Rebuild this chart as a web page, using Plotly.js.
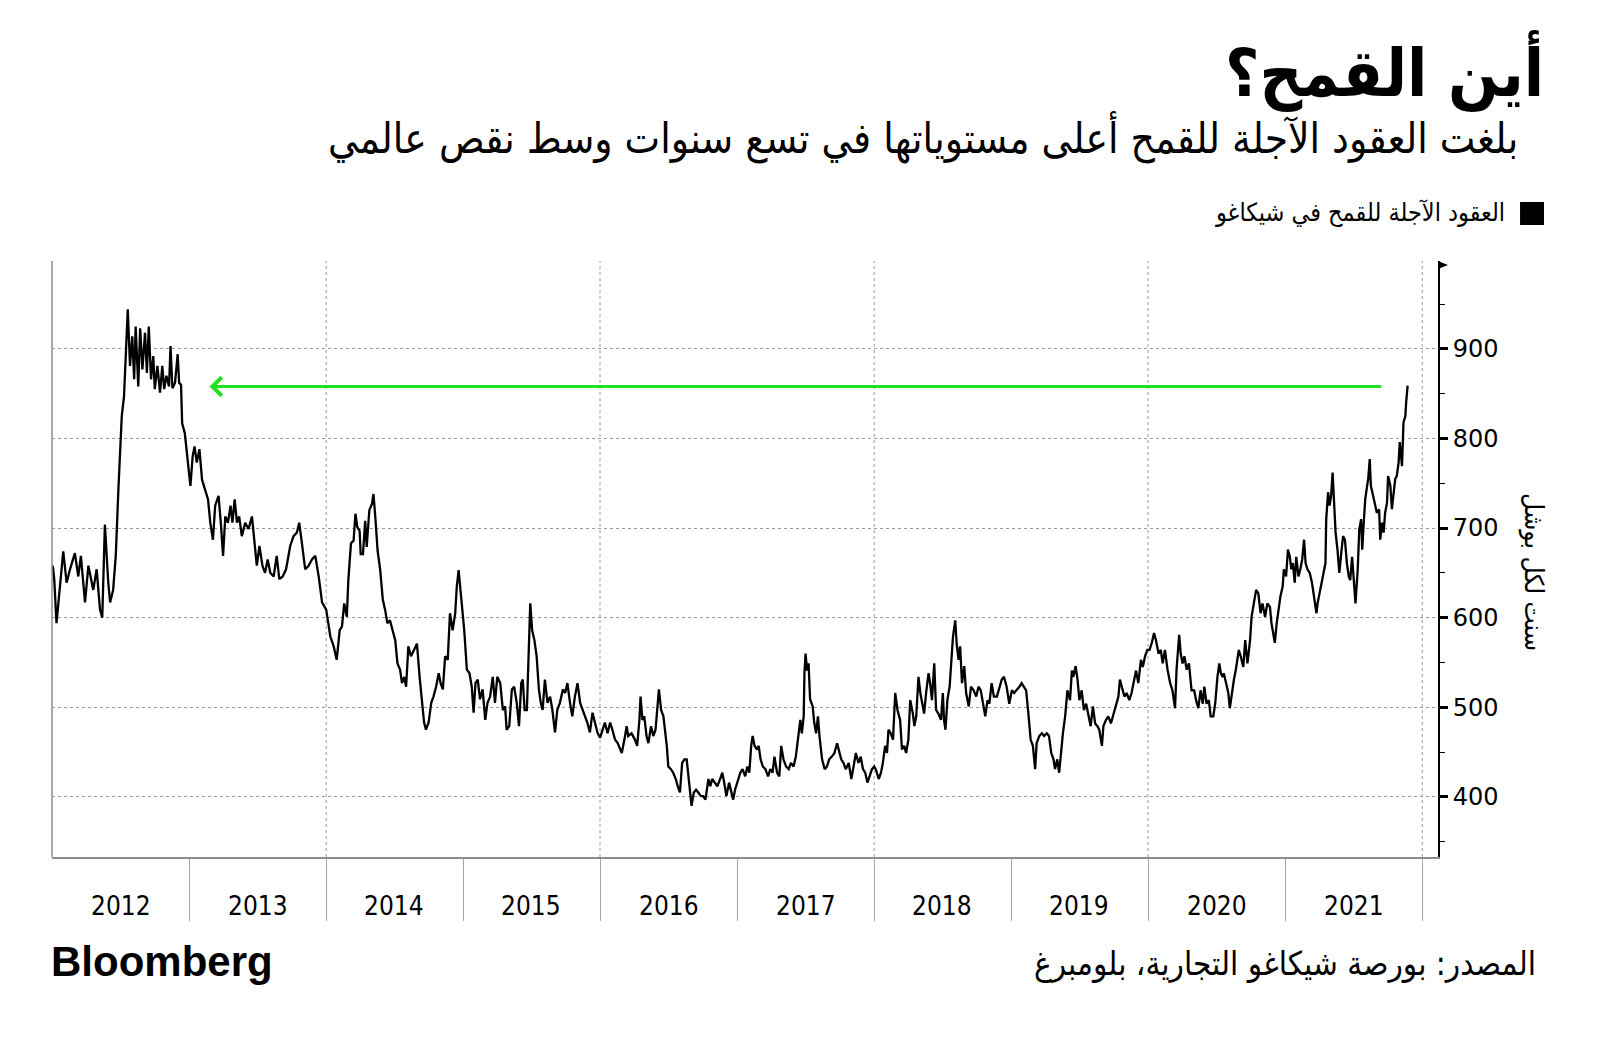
<!DOCTYPE html>
<html>
<head>
<meta charset="utf-8">
<script src="https://cdn.plot.ly/plotly-3.0.1.min.js"></script>
<style>
  html, body { margin: 0; padding: 0; background: #ffffff; }
  #chart { width: 1600px; height: 1039px; }
</style>
</head>
<body>
<div id="chart"></div>
<script>
// ---------------- DATA (CBOT wheat futures, cents per bushel) ----------------
const d2012 = ['2012-01-03','2012-01-07','2012-01-13','2012-01-22','2012-01-31','2012-02-09','2012-02-18','2012-03-02','2012-03-11','2012-03-18','2012-03-29','2012-04-07','2012-04-20','2012-04-29','2012-05-08','2012-05-14','2012-05-21','2012-05-30','2012-06-04','2012-06-12','2012-06-19','2012-06-26','2012-07-05','2012-07-11','2012-07-16','2012-07-21','2012-07-27','2012-08-02','2012-08-07','2012-08-11','2012-08-18','2012-08-23','2012-08-29','2012-09-05','2012-09-10','2012-09-15','2012-09-21','2012-09-27','2012-10-01','2012-10-08','2012-10-15','2012-10-21','2012-10-26','2012-11-01','2012-11-08','2012-11-12','2012-11-17','2012-11-24','2012-12-01','2012-12-05','2012-12-10','2012-12-13','2012-12-20','2012-12-27'];
const p2012 = [658,643,594,631,674,639,654,672,646,669,617,658,631,654,609,600,704,639,617,631,669,743,825,847,903,944,881,914,866,925,858,923,877,918,873,925,866,892,855,881,851,881,855,870,858,903,856,862,894,862,860,817,806,780];

const d2013 = ['2013-01-04','2013-01-10','2013-01-15','2013-01-21','2013-01-28','2013-02-04','2013-02-13','2013-02-20','2013-02-26','2013-03-05','2013-03-11','2013-03-20','2013-03-26','2013-04-01','2013-04-07','2013-04-14','2013-04-21','2013-04-26','2013-05-02','2013-05-08','2013-05-14','2013-05-21','2013-05-30','2013-06-08','2013-06-17','2013-06-23','2013-06-30','2013-07-07','2013-07-15','2013-07-22','2013-07-29','2013-08-05','2013-08-14','2013-08-22','2013-08-29','2013-09-07','2013-09-16','2013-09-27','2013-10-06','2013-10-15','2013-10-21','2013-10-28','2013-11-06','2013-11-15','2013-11-24','2013-12-03','2013-12-12','2013-12-21'];
const p2013 = [747,780,791,773,788,754,743,732,706,687,725,736,706,669,713,706,725,706,732,706,713,691,706,699,713,684,658,680,658,650,665,650,646,669,643,646,654,680,691,695,706,684,654,658,665,669,646,617];

const d2014 = ['2014-01-01','2014-01-12','2014-01-21','2014-01-29','2014-02-06','2014-02-12','2014-02-18','2014-02-25','2014-03-01','2014-03-08','2014-03-15','2014-03-20','2014-03-25','2014-03-31','2014-04-03','2014-04-09','2014-04-15','2014-04-19','2014-04-26','2014-05-03','2014-05-07','2014-05-12','2014-05-18','2014-05-25','2014-06-01','2014-06-07','2014-06-13','2014-06-20','2014-06-28','2014-07-04','2014-07-10','2014-07-17','2014-07-22','2014-07-28','2014-08-02','2014-08-08','2014-08-15','2014-08-22','2014-08-31','2014-09-07','2014-09-13','2014-09-19','2014-09-24','2014-10-01','2014-10-08','2014-10-14','2014-10-21','2014-10-28','2014-11-02','2014-11-08','2014-11-14','2014-11-21','2014-11-27','2014-12-04','2014-12-11','2014-12-15','2014-12-20','2014-12-24','2014-12-29'];
const p2014 = [609,579,568,553,586,590,616,601,642,683,686,716,701,697,671,671,708,679,720,727,738,712,675,653,620,609,594,597,583,575,549,542,527,534,523,568,557,564,571,534,505,483,475,483,505,512,523,538,527,520,557,553,605,586,605,634,653,634,616];

const d2015 = ['2015-01-04','2015-01-11','2015-01-18','2015-01-24','2015-01-29','2015-02-03','2015-02-09','2015-02-15','2015-02-22','2015-03-01','2015-03-07','2015-03-14','2015-03-21','2015-03-27','2015-04-02','2015-04-10','2015-04-17','2015-04-23','2015-04-27','2015-05-04','2015-05-11','2015-05-17','2015-05-24','2015-05-30','2015-06-05','2015-06-09','2015-06-14','2015-06-20','2015-06-24','2015-06-29','2015-07-04','2015-07-10','2015-07-16','2015-07-22','2015-07-27','2015-08-01','2015-08-07','2015-08-14','2015-08-21','2015-08-27','2015-09-03','2015-09-09','2015-09-16','2015-09-24','2015-09-30','2015-10-06','2015-10-13','2015-10-19','2015-10-26','2015-11-02','2015-11-09','2015-11-15','2015-11-22','2015-11-28','2015-12-05','2015-12-12','2015-12-19','2015-12-25'];
const p2015 = [586,542,538,523,494,527,531,509,520,486,505,512,534,505,534,527,497,501,475,479,520,523,505,479,527,531,497,497,557,616,586,575,557,520,505,497,531,505,512,497,472,497,505,520,516,527,505,490,512,527,505,497,490,483,472,494,483,472];

const d2016 = ['2016-01-01','2016-01-07','2016-01-14','2016-01-21','2016-01-28','2016-02-03','2016-02-10','2016-02-17','2016-02-23','2016-02-28','2016-03-06','2016-03-12','2016-03-16','2016-03-25','2016-04-03','2016-04-09','2016-04-15','2016-04-18','2016-04-23','2016-04-28','2016-05-04','2016-05-09','2016-05-16','2016-05-22','2016-05-28','2016-06-03','2016-06-06','2016-06-12','2016-06-18','2016-06-22','2016-06-27','2016-07-01','2016-07-08','2016-07-14','2016-07-21','2016-07-26','2016-08-01','2016-08-07','2016-08-13','2016-08-19','2016-08-23','2016-08-29','2016-09-01','2016-09-07','2016-09-13','2016-09-19','2016-09-26','2016-10-02','2016-10-08','2016-10-16','2016-10-21','2016-10-26','2016-11-02','2016-11-09','2016-11-16','2016-11-22','2016-11-27','2016-12-03','2016-12-10','2016-12-17','2016-12-21','2016-12-26'];
const p2016 = [466,475,483,471,483,475,464,460,453,449,464,479,468,471,464,457,486,512,486,490,468,460,479,468,475,505,520,497,490,475,457,434,431,427,420,412,405,438,442,442,427,397,390,405,408,405,401,401,397,420,412,420,416,412,420,427,416,401,416,405,397,408];

const d2017 = ['2017-01-03','2017-01-09','2017-01-15','2017-01-22','2017-01-28','2017-02-02','2017-02-07','2017-02-11','2017-02-16','2017-02-22','2017-02-27','2017-03-04','2017-03-10','2017-03-17','2017-03-24','2017-03-30','2017-04-05','2017-04-10','2017-04-17','2017-04-23','2017-04-28','2017-05-04','2017-05-11','2017-05-18','2017-05-24','2017-05-31','2017-06-06','2017-06-12','2017-06-18','2017-06-22','2017-06-27','2017-06-29','2017-07-02','2017-07-06','2017-07-10','2017-07-14','2017-07-21','2017-07-25','2017-07-30','2017-08-04','2017-08-08','2017-08-15','2017-08-22','2017-08-28','2017-09-03','2017-09-10','2017-09-17','2017-09-24','2017-09-30','2017-10-05','2017-10-11','2017-10-17','2017-10-25','2017-11-01','2017-11-07','2017-11-13','2017-11-20','2017-11-26','2017-12-02','2017-12-08','2017-12-14','2017-12-20','2017-12-26'];
const p2017 = [420,427,431,423,434,427,457,468,457,453,457,442,434,431,423,431,427,445,427,423,457,442,434,431,438,434,445,468,486,471,490,538,560,541,549,509,501,483,471,490,468,442,431,434,442,445,449,460,449,442,438,431,438,420,434,449,438,445,431,427,416,423,431];

const d2018 = ['2018-01-01','2018-01-06','2018-01-13','2018-01-19','2018-01-24','2018-01-30','2018-02-04','2018-02-08','2018-02-14','2018-02-20','2018-02-26','2018-03-04','2018-03-11','2018-03-16','2018-03-22','2018-03-27','2018-04-02','2018-04-07','2018-04-14','2018-04-18','2018-04-23','2018-04-29','2018-05-04','2018-05-08','2018-05-14','2018-05-20','2018-05-26','2018-05-30','2018-06-04','2018-06-10','2018-06-15','2018-06-21','2018-06-28','2018-07-03','2018-07-06','2018-07-10','2018-07-15','2018-07-21','2018-07-25','2018-07-30','2018-08-05','2018-08-09','2018-08-14','2018-08-18','2018-08-23','2018-08-29','2018-09-03','2018-09-10','2018-09-16','2018-09-23','2018-09-30','2018-10-06','2018-10-12','2018-10-17','2018-10-24','2018-10-30','2018-11-04','2018-11-10','2018-11-16','2018-11-24','2018-12-01','2018-12-07','2018-12-13','2018-12-20','2018-12-27'];
const p2018 = [434,430,420,427,438,457,449,475,471,464,516,497,486,453,457,449,464,508,493,479,490,534,516,508,493,519,538,527,508,549,497,493,486,516,486,475,508,523,546,579,597,570,553,568,527,546,516,501,523,519,512,523,519,508,490,508,504,527,512,512,523,531,534,523,504];

const d2019 = ['2019-01-03','2019-01-09','2019-01-16','2019-01-23','2019-01-29','2019-02-05','2019-02-10','2019-02-16','2019-02-22','2019-02-28','2019-03-06','2019-03-10','2019-03-17','2019-03-24','2019-03-30','2019-04-06','2019-04-12','2019-04-18','2019-04-24','2019-04-28','2019-05-04','2019-05-09','2019-05-13','2019-05-19','2019-05-25','2019-05-31','2019-06-07','2019-06-12','2019-06-16','2019-06-22','2019-06-27','2019-07-02','2019-07-08','2019-07-14','2019-07-20','2019-07-26','2019-08-01','2019-08-07','2019-08-13','2019-08-19','2019-08-24','2019-08-31','2019-09-04','2019-09-11','2019-09-17','2019-09-24','2019-10-01','2019-10-08','2019-10-14','2019-10-18','2019-10-25','2019-10-30','2019-11-05','2019-11-12','2019-11-18','2019-11-25','2019-11-30','2019-12-06','2019-12-13','2019-12-18','2019-12-24','2019-12-30'];
const p2019 = [519,516,519,523,527,523,519,493,464,457,431,460,468,471,468,471,468,449,442,431,442,427,449,471,490,519,508,541,534,546,531,508,519,497,504,493,479,501,482,479,475,457,479,486,490,482,493,504,512,531,519,512,516,508,516,531,541,527,553,545,557,564];

const d2020 = ['2020-01-05','2020-01-11','2020-01-17','2020-01-22','2020-01-29','2020-02-04','2020-02-09','2020-02-15','2020-02-22','2020-02-29','2020-03-06','2020-03-13','2020-03-17','2020-03-24','2020-03-28','2020-04-02','2020-04-07','2020-04-13','2020-04-19','2020-04-26','2020-05-03','2020-05-08','2020-05-14','2020-05-20','2020-05-26','2020-05-30','2020-06-05','2020-06-11','2020-06-16','2020-06-23','2020-06-28','2020-07-04','2020-07-09','2020-07-13','2020-07-18','2020-07-21','2020-07-27','2020-08-02','2020-08-06','2020-08-12','2020-08-17','2020-08-22','2020-08-30','2020-09-04','2020-09-11','2020-09-16','2020-09-22','2020-09-29','2020-10-03','2020-10-09','2020-10-15','2020-10-21','2020-10-27','2020-11-01','2020-11-08','2020-11-14','2020-11-21','2020-11-25','2020-11-30','2020-12-04','2020-12-09','2020-12-14','2020-12-19','2020-12-25','2020-12-28'];
const p2020 = [564,572,583,575,560,564,549,564,542,527,519,499,542,581,560,549,557,542,549,519,519,508,499,519,504,523,504,508,490,490,504,534,549,538,534,538,527,516,499,519,531,542,564,557,545,575,549,575,601,616,631,627,605,616,601,616,612,594,579,572,594,612,624,635,654];

const d2021 = ['2021-01-03','2021-01-08','2021-01-13','2021-01-17','2021-01-21','2021-01-26','2021-01-30','2021-02-05','2021-02-10','2021-02-15','2021-02-20','2021-02-24','2021-03-01','2021-03-07','2021-03-13','2021-03-19','2021-03-25','2021-03-28','2021-04-02','2021-04-07','2021-04-13','2021-04-18','2021-04-20','2021-04-25','2021-04-29','2021-05-03','2021-05-07','2021-05-12','2021-05-15','2021-05-20','2021-05-25','2021-05-30','2021-06-04','2021-06-09','2021-06-14','2021-06-19','2021-06-23','2021-06-28','2021-07-03','2021-07-07','2021-07-13','2021-07-17','2021-07-22','2021-07-25','2021-07-29','2021-08-02','2021-08-07','2021-08-10','2021-08-14','2021-08-17','2021-08-23','2021-08-28','2021-09-02','2021-09-08','2021-09-11','2021-09-16','2021-09-20','2021-09-24','2021-09-29','2021-10-02','2021-10-08','2021-10-12','2021-10-17','2021-10-21','2021-10-25','2021-10-30','2021-11-02','2021-11-05','2021-11-08','2021-11-12','2021-11-17','2021-11-19','2021-11-23'];
const p2021 = [646,676,668,654,661,639,668,646,654,665,687,661,654,650,639,624,605,616,627,639,654,661,710,740,725,736,762,710,695,676,650,672,691,687,661,646,642,668,639,616,654,698,710,676,706,732,747,755,777,747,736,728,717,721,687,706,695,717,728,758,747,721,740,755,758,773,796,781,769,818,825,840,859];

// Axis / tick data
const yearLabels = ['2012','2013','2014','2015','2016','2017','2018','2019','2020','2021'];
const yearMid = ['2012-07-02','2013-07-02','2014-07-02','2015-07-02','2016-07-02','2017-07-02','2018-07-02','2019-07-02','2020-07-02','2021-07-02'];
const yearStarts = ['2013-01-01','2014-01-01','2015-01-01','2016-01-01','2017-01-01','2018-01-01','2019-01-01','2020-01-01','2021-01-01','2022-01-01'];
const gridYears = ['2014-01-01','2016-01-01','2018-01-01','2020-01-01','2022-01-01'];
const yTicks = [400, 500, 600, 700, 800, 900];

// Green reference arrow: latest level pointing back to the 2013 level
const arrowLevel = 858;
const arrowFrom = '2021-09-18';
const arrowTo = '2013-02-24';

// Texts
const titleText = 'أين القمح؟';
const subtitleText = 'بلغت العقود الآجلة للقمح أعلى مستوياتها في تسع سنوات وسط نقص عالمي';
const legendText = 'العقود الآجلة للقمح في شيكاغو';
const yTitleText = 'سنت لكل بوشل';
const sourceText = 'المصدر: بورصة شيكاغو التجارية، بلومبرغ';
const brandText = 'Bloomberg';

// ---------------- BUILD ----------------
const dates = [].concat(d2012, d2013, d2014, d2015, d2016, d2017, d2018, d2019, d2020, d2021);
const prices = [].concat(p2012, p2013, p2014, p2015, p2016, p2017, p2018, p2019, p2020, p2021);

const arabicFont = '"DejaVu Sans Condensed", "DejaVu Sans", sans-serif';

const traces = [{
  type: 'scatter',
  mode: 'lines',
  x: dates,
  y: prices,
  line: { color: '#000000', width: 2.3 },
  hoverinfo: 'x+y',
  showlegend: false
}];

const shapes = [];
gridYears.forEach(function (d) {
  shapes.push({
    type: 'line', xref: 'x', yref: 'paper', x0: d, x1: d, y0: 0, y1: 1,
    line: { color: '#9a9a9a', width: 1, dash: 'dot' }, layer: 'below'
  });
});
// left frame line
shapes.push({ type: 'line', xref: 'paper', yref: 'paper', x0: 0, x1: 0, y0: 0, y1: 1,
  line: { color: '#8c8c8c', width: 1.5 } });
// legend square
shapes.push({ type: 'rect', xref: 'paper', yref: 'paper', x0: 1.0592, x1: 1.0765, y0: 1.0604, y1: 1.099,
  fillcolor: '#000000', line: { width: 0 } });
// arrow tip at top of the value axis
shapes.push({ type: 'path', xref: 'paper', yref: 'paper', xsizemode: 'pixel', ysizemode: 'pixel',
  xanchor: 1, yanchor: 1, path: 'M0,0 L10,-4 L0,-8 Z', fillcolor: '#000000', line: { width: 0 } });

const annotations = [];
// year labels
yearMid.forEach(function (d, i) {
  annotations.push({
    xref: 'x', yref: 'paper', x: d, y: -0.0822, text: yearLabels[i], showarrow: false,
    xanchor: 'center', yanchor: 'middle',
    font: { family: '"DejaVu Sans Condensed", "DejaVu Sans", sans-serif', size: 26, color: '#000000' }
  });
});
// arrow
annotations.push({
  xref: 'x', yref: 'y', axref: 'x', ayref: 'y',
  x: arrowTo, y: arrowLevel, ax: arrowFrom, ay: arrowLevel,
  text: '', showarrow: true, arrowhead: 4, arrowsize: 1.2, arrowwidth: 3,
  arrowcolor: '#22e022', standoff: 0, startstandoff: 0
});
// title
annotations.push({ xref: 'paper', yref: 'paper', x: 1.0779, y: 1.318, xanchor: 'right', yanchor: 'middle',
  text: '<b>' + titleText + '</b>', showarrow: false,
  font: { family: arabicFont, size: 66, color: '#000000' } });
// subtitle
annotations.push({ xref: 'paper', yref: 'paper', x: 1.0592, y: 1.2064, xanchor: 'right', yanchor: 'middle',
  text: subtitleText, showarrow: false,
  font: { family: arabicFont, size: 42, color: '#000000' } });
// legend text
annotations.push({ xref: 'paper', yref: 'paper', x: 1.0498, y: 1.0805, xanchor: 'right', yanchor: 'middle',
  text: legendText, showarrow: false,
  font: { family: arabicFont, size: 25, color: '#000000' } });
// y-axis title
annotations.push({ xref: 'paper', yref: 'paper', x: 1.0693, y: 0.478, xanchor: 'center', yanchor: 'middle',
  text: yTitleText, textangle: 90, showarrow: false,
  font: { family: arabicFont, size: 26, color: '#000000' } });
// source
annotations.push({ xref: 'paper', yref: 'paper', x: 1.0722, y: -0.1795, xanchor: 'right', yanchor: 'middle',
  text: sourceText, showarrow: false,
  font: { family: arabicFont, size: 33, color: '#000000' } });
// brand
annotations.push({ xref: 'paper', yref: 'paper', x: -0.002, y: -0.1745, xanchor: 'left', yanchor: 'middle',
  text: '<b>' + brandText + '</b>', showarrow: false,
  font: { family: '"Liberation Sans", Arial, sans-serif', size: 42, color: '#000000' } });

const layout = {
  width: 1600,
  height: 1039,
  margin: { l: 52, r: 162, t: 261, b: 182, pad: 0 },
  paper_bgcolor: '#ffffff',
  plot_bgcolor: '#ffffff',
  showlegend: false,
  xaxis: {
    type: 'date',
    range: ['2012-01-01', '2022-02-12'],
    tickmode: 'array',
    tickvals: yearStarts,
    ticks: 'outside',
    ticklen: 62,
    tickwidth: 1,
    tickcolor: '#a6a6a6',
    showticklabels: false,
    showgrid: false,
    zeroline: false,
    showline: true,
    linecolor: '#8c8c8c',
    linewidth: 2,
    fixedrange: true
  },
  yaxis: {
    side: 'right',
    range: [333, 998],
    tickmode: 'array',
    tickvals: yTicks,
    ticktext: yTicks.map(String),
    ticks: 'outside',
    ticklen: 8,
    tickwidth: 3,
    tickcolor: '#000000',
    showline: true,
    linecolor: '#000000',
    linewidth: 2,
    showgrid: true,
    gridcolor: '#9a9a9a',
    griddash: 'dot',
    gridwidth: 1,
    zeroline: false,
    tickfont: { family: '"DejaVu Sans", sans-serif', size: 24, color: '#000000' },
    minor: { tickmode: 'linear', tick0: 350, dtick: 100, ticks: 'outside', ticklen: 5, tickwidth: 1, tickcolor: '#000000', showgrid: false },
    fixedrange: true
  },
  shapes: shapes,
  annotations: annotations
};

Plotly.newPlot('chart', traces, layout, { displayModeBar: false, staticPlot: true });
</script>
</body>
</html>
